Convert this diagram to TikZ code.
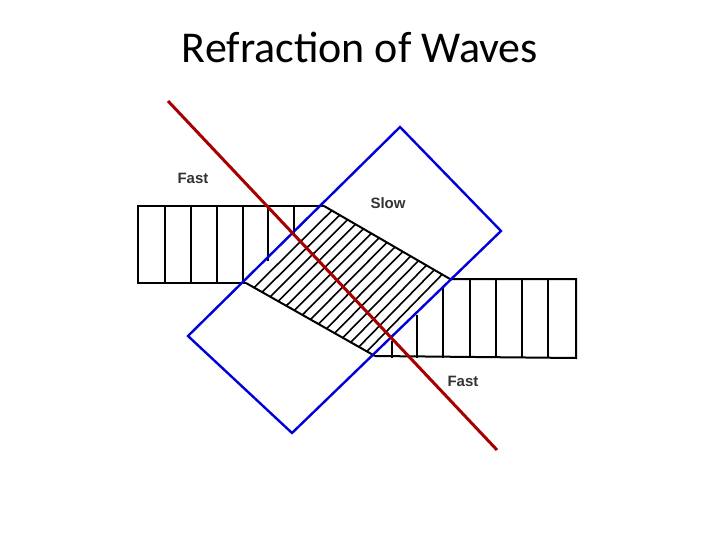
\documentclass[tikz,border=0pt]{standalone}
\usepackage{fontspec}
\setmainfont{Carlito}
\newfontfamily\labelfont{Liberation Sans}
\usetikzlibrary{calc}
\begin{document}
\begin{tikzpicture}
			[%%%%%%%%%%%%%%%%%%%%%%%%%%%%%%%%%%%%%%%%%%%%%%%%%%%%%%%%%%
				x=1pt,y=-1pt,
				wave/.style={black,line width=2pt},
				block/.style={draw=blue!85!black,line width=2.4pt},
				normal/.style={draw=red!65!black,line width=3pt},
				speed/.style={font=\labelfont\bfseries\fontsize{15}{18}\selectfont,text=black!80}
			]%%%%%%%%%%%%%%%%%%%%%%%%%%%%%%%%%%%%%%%%%%%%%%%%%%%%%%%%%%
			\useasboundingbox (0,0) rectangle (720,540);
			\node[font=\fontsize{44}{52}\selectfont] (title) at (360,47) {Refraction of Waves};

			% block corners
			\coordinate (bt) at (400,127);
			\coordinate (br) at (501,231);
			\coordinate (bb) at (292,433);
			\coordinate (bl) at (188,336);
			% slow region corners
			\coordinate (s1) at (324,206);
			\coordinate (s2) at (246,283);
			\coordinate (s3) at (375,356);
			\coordinate (s4) at (450,279);

			% left fast band
			\draw[wave] (s1) -- (138,206) -- (138,283) -- (s2);
			\foreach \x in {165,191,217,243,268,294}
				\draw[wave] (\x,206) -- (\x,{\x<246 ? 283 : 283-(\x-246)*77/78});
			% slow band
			\draw[wave] (s1) -- (s4);
			\draw[wave] (s2) -- (s3);
			\foreach \i in {1,...,15}
				\draw[wave,line width=1.6pt] ($(s1)!\i/16!(s4)$) -- ($(s2)!\i/16!(s3)$);
			% right fast band
			\draw[wave] (s4) -- (576,279) -- (576,358) -- (s3);
			\foreach \x in {392,417,443,470,496,522,548}
				\draw[wave] (\x,358) -- (\x,{\x>450 ? 279 : 358-(\x-375)*77/75});

			\draw[block] (bt) -- (br) -- (bb) -- (bl) -- cycle;
			\draw[normal] (168,101) -- (497,450);

			\node[speed] (fast1) at (193,178) {Fast};
			\node[speed] (slow) at (388,203) {Slow};
			\node[speed] (fast2) at (463,381) {Fast};
		\end{tikzpicture}
\end{document}
